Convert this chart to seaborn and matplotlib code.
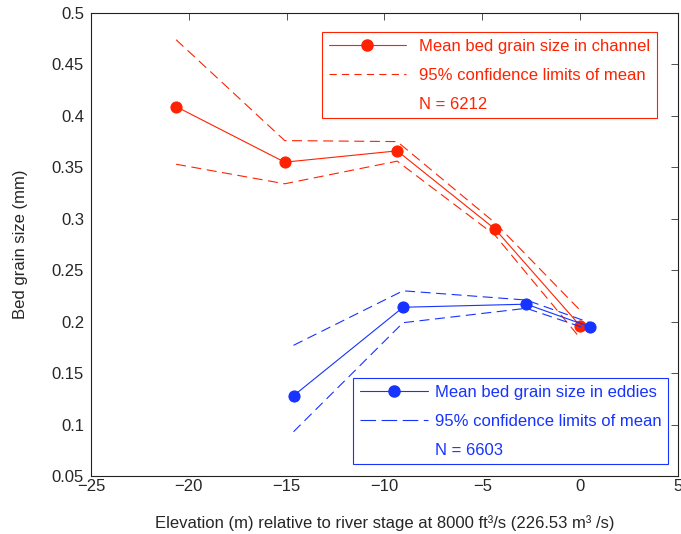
import numpy as np
import pandas as pd
import matplotlib
matplotlib.use("Agg")
import matplotlib.pyplot as plt
from matplotlib.lines import Line2D
from matplotlib.ticker import FuncFormatter
import seaborn as sns

# channel data
x_channel = [-20.65, -15.1, -9.35, -4.35, 0.0]
mean_channel = [0.409, 0.355, 0.366, 0.290, 0.196]
upper_channel = [0.474, 0.376, 0.375, 0.296, 0.211]
lower_channel = [0.353, 0.334, 0.356, 0.284, 0.184]

# eddy data
x_eddies = [-14.65, -9.05, -2.75, 0.5]
mean_eddies = [0.128, 0.214, 0.217, 0.195]
upper_eddies = [0.177, 0.230, 0.221, 0.199]
lower_eddies = [0.093, 0.199, 0.213, 0.192]

red = "#ff2200"
blue = "#1633ff"

sns.set_theme(style="white")
plt.rcParams["font.family"] = ["Liberation Sans", "DejaVu Sans"]
plt.rcParams["xtick.direction"] = "in"
plt.rcParams["ytick.direction"] = "in"

fig = plt.figure(figsize=(6.81, 5.34), dpi=100)
ax = fig.add_axes([0.1336, 0.1086, 0.8620, 0.8671])

ch = pd.DataFrame({"x": x_channel, "mean": mean_channel,
                   "upper": upper_channel, "lower": lower_channel})
ed = pd.DataFrame({"x": x_eddies, "mean": mean_eddies,
                   "upper": upper_eddies, "lower": lower_eddies})

dash = (9, 5)
for df, c in [(ch, red), (ed, blue)]:
    sns.lineplot(data=df, x="x", y="mean", sort=False, color=c, lw=0.8,
                 marker="o", markersize=8, markeredgecolor=c, ax=ax)
    for col in ["upper", "lower"]:
        sns.lineplot(data=df, x="x", y=col, sort=False, color=c, lw=0.8,
                     dashes=False, ax=ax).lines[-1].set_dashes(dash)

ax.set_xlim(-25, 5)
ax.set_ylim(0.05, 0.5)
ax.set_xticks(np.arange(-25, 6, 5))
ax.set_yticks(np.arange(0.05, 0.501, 0.05))
ax.yaxis.set_major_formatter(FuncFormatter(lambda v, p: "%g" % round(v, 2)))
ax.tick_params(axis="both", which="both", direction="in", length=5, width=0.6,
               top=True, right=True, labelsize=12, color="#333333")
ax.tick_params(axis="x", pad=2)
ax.tick_params(axis="y", pad=5)
for s in ax.spines.values():
    s.set_color("#222222")
    s.set_linewidth(0.8)

ax.set_xlabel("Elevation (m) relative to river stage at 8000 ft³/s (226.53 m³ /s)",
              fontsize=12, labelpad=15)
ax.set_ylabel("Bed grain size (mm)", fontsize=12, labelpad=17)


def make_legend(c, labels, anchor, hlen, tpad, ldash):
    h = [Line2D([], [], color=c, lw=0.8, marker="o", markersize=8),
         Line2D([], [], color=c, lw=0.8, linestyle=(0, ldash)),
         Line2D([], [], linestyle="none")]
    leg = ax.legend(h, labels, loc="upper left", bbox_to_anchor=anchor,
                    borderaxespad=0, fontsize=12, handlelength=hlen,
                    handletextpad=tpad, labelspacing=0.84, borderpad=0.4,
                    fancybox=False, frameon=True, labelcolor=c)
    leg.get_frame().set_edgecolor(c)
    leg.get_frame().set_linewidth(0.8)
    leg.get_frame().set_alpha(1)
    return leg


leg1 = make_legend(red, ["Mean bed grain size in channel",
                         "95% confidence limits of mean", "N = 6212"],
                   (0.3935, 0.959), 4.65, 0.78, (6.5, 4.7))
ax.add_artist(leg1)
make_legend(blue, ["Mean bed grain size in eddies",
                   "95% confidence limits of mean", "N = 6603"],
            (0.4463, 0.2117), 4.1, 0.42, (14, 5))

fig.savefig("out.png", dpi=100)
